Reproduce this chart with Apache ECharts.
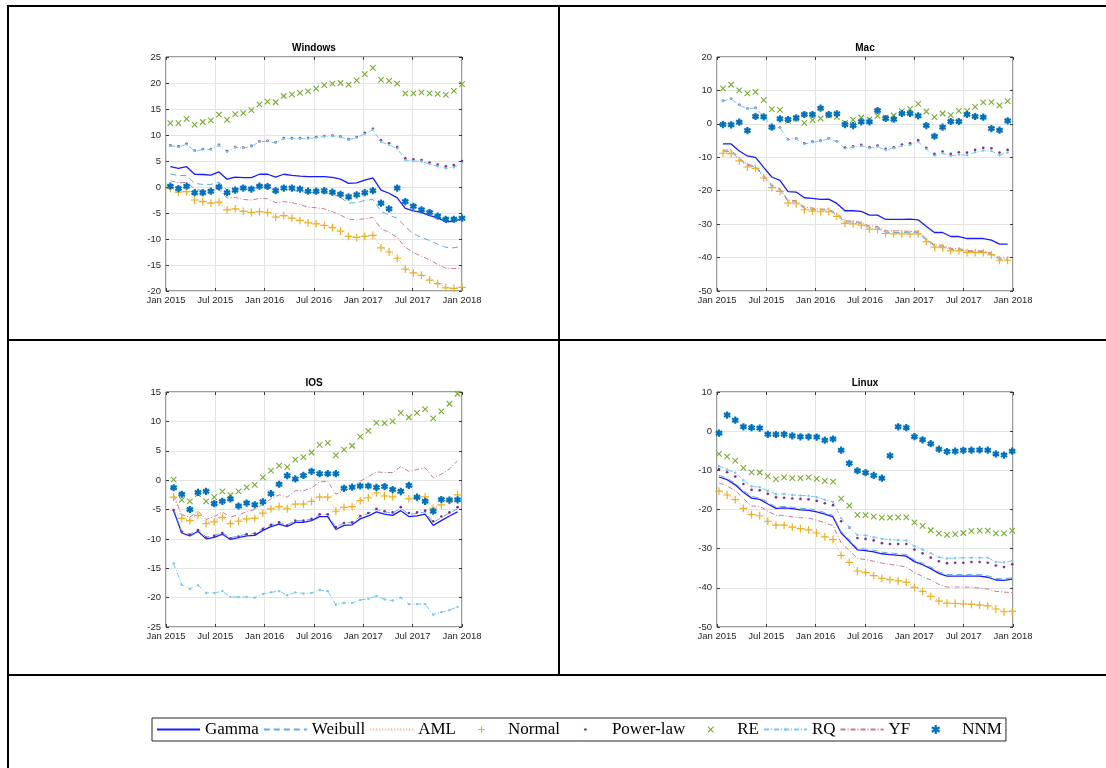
<!DOCTYPE html>
<html>
<head>
<meta charset="utf-8">
<script src="https://cdn.jsdelivr.net/npm/echarts@6/dist/echarts.min.js"></script>
<style>
  html, body { margin: 0; padding: 0; background: #fff; }
  #chart { width: 1106px; height: 768px; }
</style>
</head>
<body>
<div id="chart"></div>
<script>
// x axis is months since Jan 2015
const tickLabels = ['Jan 2015', 'Jul 2015', 'Jan 2016', 'Jul 2016', 'Jan 2017', 'Jul 2017', 'Jan 2018'];
const seriesNames = ['Gamma', 'Weibull', 'AML', 'Normal', 'Power-law', 'RE', 'RQ', 'YF', 'NNM'];

// ---- Windows (37 samples) ----
const winSpan = [0.53, 36];
const winGamma = [3.9,3.6,3.9,2.45,2.4,2.3,2.9,1.5,1.9,1.8,1.8,2.45,2.45,1.9,2.45,2.25,2.1,2.0,2.0,2.0,1.85,1.5,0.7,0.8,1.3,1.75,-0.6,-1.2,-2.1,-4.1,-4.6,-4.9,-5.5,-5.9,-6.7,-6.6,-6.1];
const winWeibull = [2.5,2.2,2.2,0.7,0.5,0.5,0.9,-0.6,-0.4,-0.4,-0.4,0.1,0.1,-0.7,-0.5,-0.6,-0.9,-1.0,-1.2,-1.2,-1.3,-2.0,-3.1,-3.0,-2.6,-2.4,-4.7,-5.4,-6.0,-7.6,-9.0,-9.7,-10.3,-11.0,-11.6,-11.7,-11.4];
const winAML = [-0.3,-0.9,-0.9,-2.4,-2.7,-3.0,-2.9,-4.3,-4.2,-4.6,-4.8,-4.7,-4.8,-5.7,-5.5,-5.9,-6.3,-6.8,-7.0,-7.3,-7.7,-8.4,-9.4,-9.6,-9.4,-9.2,-11.6,-12.4,-13.6,-15.7,-16.4,-16.9,-17.8,-18.5,-19.3,-19.4,-19.2];
const winNormal = [-0.25,-1.0,-0.9,-2.5,-2.8,-3.1,-2.9,-4.4,-4.2,-4.7,-4.9,-4.75,-4.9,-5.8,-5.5,-6.0,-6.4,-6.9,-7.1,-7.4,-7.8,-8.5,-9.5,-9.7,-9.5,-9.3,-11.7,-12.5,-13.7,-15.8,-16.5,-17.0,-17.9,-18.6,-19.4,-19.5,-19.3];
const winPower = [8.0,7.8,8.3,7.0,7.3,7.3,8.1,6.9,7.7,7.6,7.9,8.8,8.9,8.6,9.4,9.4,9.4,9.4,9.6,9.8,9.9,9.7,9.2,9.6,10.4,11.2,9.0,8.4,7.7,5.5,5.3,5.2,4.7,4.3,4.0,4.2,5.0];
const winRE = [12.3,12.3,13.1,12.0,12.5,12.8,13.9,12.9,14.0,14.2,14.8,15.9,16.4,16.3,17.5,17.8,18.1,18.4,18.9,19.6,19.9,20.0,19.7,20.5,21.7,22.9,20.6,20.4,19.9,18.0,18.0,18.2,18.0,17.9,17.7,18.5,19.8];
const winRQ = [7.95,7.7,8.2,6.9,7.2,7.2,8.0,6.8,7.6,7.5,7.8,8.7,8.8,8.5,9.3,9.3,9.3,9.3,9.5,9.7,9.8,9.6,9.1,9.5,10.2,11.0,8.7,8.1,7.4,5.2,5.0,4.9,4.4,4.0,3.6,3.8,4.6];
const winYF = [1.2,0.8,0.9,-0.4,-0.7,-0.65,-0.45,-2.1,-2.0,-2.4,-2.5,-2.2,-2.25,-3.0,-2.8,-3.0,-3.4,-3.85,-4.0,-4.2,-4.75,-5.4,-6.2,-6.3,-6.1,-5.85,-8.0,-8.7,-9.7,-11.6,-12.6,-13.3,-14.0,-14.9,-15.6,-15.7,-15.6];
const winNNM = [0.15,-0.3,0.15,-1.1,-1.1,-0.8,0.0,-1.1,-0.6,-0.2,-0.4,0.15,0.1,-0.7,-0.2,-0.2,-0.4,-0.8,-0.8,-0.7,-1.0,-1.4,-1.9,-1.5,-1.1,-0.7,-3.1,-4.2,-0.2,-2.8,-3.7,-4.4,-4.9,-5.6,-6.2,-6.2,-6.0];

// ---- Mac (36 samples) ----
const macSpan = [0.73, 35.35];
const macGamma = [-6.0,-6.0,-8.1,-9.6,-10.0,-13.0,-15.9,-16.9,-20.3,-20.4,-22.1,-22.3,-22.6,-22.5,-23.8,-26.0,-26.0,-26.2,-27.3,-27.3,-28.6,-28.6,-28.6,-28.5,-28.7,-30.7,-32.5,-32.5,-33.7,-33.7,-34.3,-34.3,-34.3,-34.8,-36.0,-36.0];
const macWeibull = [-8.2,-8.3,-10.6,-12.4,-12.9,-15.7,-18.7,-19.7,-23.2,-23.4,-25.2,-25.6,-25.8,-25.8,-27.2,-29.3,-29.4,-29.8,-31.0,-31.1,-32.4,-32.5,-32.5,-32.6,-32.5,-34.8,-36.5,-36.6,-37.6,-37.6,-38.2,-38.2,-38.2,-39.0,-40.5,-40.5];
const macAML = [-8.6,-8.7,-10.9,-12.7,-13.1,-16.0,-18.9,-20.0,-23.5,-23.7,-25.5,-25.9,-26.1,-26.1,-27.5,-29.6,-29.7,-30.1,-31.3,-31.4,-32.6,-32.7,-32.7,-32.8,-32.7,-35.0,-36.7,-36.8,-37.8,-37.8,-38.3,-38.3,-38.3,-39.0,-40.6,-40.6];
const macNormal = [-8.8,-8.9,-11.1,-12.9,-13.3,-16.2,-19.1,-20.2,-23.7,-23.9,-25.7,-26.1,-26.3,-26.3,-27.7,-29.8,-29.9,-30.3,-31.5,-31.6,-32.8,-32.9,-32.9,-33.0,-32.9,-35.2,-36.9,-37.0,-38.0,-38.0,-38.5,-38.5,-38.5,-39.2,-40.8,-40.8];
const macPower = [6.9,7.5,5.7,4.6,4.8,2.3,-0.8,-1.1,-4.6,-4.4,-5.8,-5.3,-5.0,-4.3,-5.2,-7.1,-6.7,-6.3,-7.0,-6.5,-7.5,-7.0,-6.2,-5.8,-4.9,-7.2,-9.0,-8.3,-9.0,-8.5,-8.6,-7.8,-7.2,-7.3,-8.6,-7.8];
const macRE = [10.6,11.7,10.0,9.1,9.6,7.1,4.4,4.2,0.9,1.6,0.3,1.1,1.6,2.5,2.0,0.3,1.2,1.9,1.3,2.4,1.9,2.5,3.8,4.5,6.0,3.7,2.0,3.1,2.6,3.9,3.9,5.1,6.4,6.5,5.5,6.8];
const macRQ = [6.8,7.5,5.6,4.5,4.7,2.2,-0.9,-1.2,-4.7,-4.5,-6.0,-5.5,-5.2,-4.4,-5.3,-7.4,-7.0,-6.6,-7.3,-6.8,-7.8,-7.3,-6.6,-6.3,-5.4,-7.5,-9.5,-8.8,-9.6,-9.2,-9.4,-8.5,-8.0,-8.1,-9.4,-8.6];
const macYF = [-7.8,-7.9,-10.2,-12.1,-12.6,-15.4,-18.3,-19.4,-22.8,-23.0,-24.9,-25.2,-25.5,-25.5,-26.8,-29.0,-29.1,-29.5,-30.6,-30.7,-32.0,-32.0,-32.0,-32.2,-32.1,-34.4,-36.2,-36.3,-37.3,-37.3,-37.9,-38.0,-38.0,-38.7,-40.1,-40.2];
const macNNM = [-0.2,-0.3,0.5,-2.0,2.2,2.1,-1.0,1.5,1.3,1.8,2.8,2.8,4.7,2.8,3.0,-0.2,-0.5,0.6,0.6,4.0,1.6,1.4,3.1,3.1,2.4,-0.5,-3.7,-1.0,0.7,0.7,2.8,2.2,2.0,-1.4,-1.9,0.9];

// ---- IOS (36 samples) ----
const iosSpan = [0.93, 35.46];
const iosGamma = [-5.2,-9.0,-9.5,-8.7,-10.0,-9.75,-9.2,-10.1,-9.8,-9.5,-9.4,-8.55,-7.9,-7.5,-7.9,-7.2,-7.2,-6.9,-6.2,-6.2,-8.4,-7.7,-7.6,-6.6,-6.1,-5.4,-5.8,-6.0,-5.2,-6.2,-6.1,-5.8,-7.7,-6.9,-6.1,-5.4];
const iosWeibull = [-4.9,-8.7,-9.2,-8.4,-9.7,-9.4,-8.9,-9.8,-9.5,-9.2,-9.1,-8.2,-7.6,-7.2,-7.6,-6.9,-6.9,-6.6,-5.9,-5.9,-8.0,-7.3,-7.2,-6.2,-5.7,-5.0,-5.4,-5.6,-4.8,-5.8,-5.7,-5.4,-7.2,-6.4,-5.6,-4.9];
const iosAML = [-2.8,-6.4,-6.8,-5.9,-7.3,-7.0,-6.3,-7.3,-6.9,-6.5,-6.4,-5.5,-4.8,-4.4,-4.8,-4.0,-4.0,-3.5,-2.8,-2.8,-5.2,-4.6,-4.4,-3.4,-2.9,-2.1,-2.6,-2.8,-2.0,-3.1,-2.9,-2.8,-4.7,-4.1,-3.4,-2.4];
const iosNormal = [-2.9,-6.5,-6.9,-6.0,-7.4,-7.1,-6.35,-7.4,-7.0,-6.6,-6.5,-5.6,-4.9,-4.5,-4.9,-4.1,-4.1,-3.6,-2.9,-2.9,-5.3,-4.65,-4.5,-3.5,-3.0,-2.15,-2.7,-2.85,-2.1,-3.2,-3.0,-2.85,-4.75,-4.2,-3.5,-2.5];
const iosPower = [-5.1,-8.8,-9.3,-8.5,-9.8,-9.5,-9.0,-9.9,-9.6,-9.2,-9.1,-8.3,-7.6,-7.2,-7.7,-6.9,-6.9,-6.6,-5.8,-5.8,-8.0,-7.3,-7.2,-6.1,-5.6,-4.9,-5.3,-5.5,-4.6,-5.6,-5.5,-5.2,-7.0,-6.2,-5.5,-4.6];
const iosRE = [0.1,-3.35,-3.6,-2.4,-3.6,-2.9,-1.9,-2.55,-1.9,-1.25,-0.8,0.45,1.6,2.45,2.2,3.5,3.9,4.7,6.0,6.35,4.2,5.2,5.85,7.4,8.4,9.75,9.7,10.0,11.45,10.7,11.45,12.1,10.5,11.7,13.0,14.7];
const iosRQ = [-14.2,-17.8,-18.5,-17.9,-19.2,-19.2,-18.9,-19.9,-19.9,-19.9,-20.0,-19.4,-19.1,-18.9,-19.6,-19.1,-19.3,-19.2,-18.7,-18.9,-21.2,-20.9,-20.9,-20.4,-20.2,-19.7,-20.3,-20.5,-20.0,-21.1,-21.1,-21.1,-22.9,-22.5,-22.1,-21.6];
const iosYF = [-2.5,-5.9,-6.3,-5.3,-6.7,-6.2,-5.4,-6.3,-5.9,-5.4,-5.0,-4.1,-3.2,-2.5,-2.9,-1.8,-1.8,-1.3,-0.3,-0.2,-2.4,-1.8,-1.3,-0.2,0.6,1.4,1.3,1.3,2.3,1.5,1.8,2.1,0.4,1.0,1.9,3.3];
const iosNNM = [-1.3,-2.4,-5.0,-2.1,-1.9,-4.0,-3.6,-3.2,-4.4,-3.9,-4.2,-3.7,-2.3,-0.7,0.75,0.2,0.8,1.5,1.1,1.1,1.1,-1.4,-1.2,-1.0,-1.0,-1.25,-1.1,-1.6,-1.9,-0.9,-2.9,-3.6,-5.3,-3.3,-3.4,-3.35];

// ---- Linux (37 samples) ----
const linSpan = [0.24, 35.9];
const linGamma = [-11.7,-12.4,-13.7,-15.6,-17.1,-17.4,-18.6,-19.7,-19.6,-19.8,-20.1,-20.2,-20.6,-21.2,-21.9,-26.0,-28.1,-30.3,-30.5,-30.8,-31.3,-31.5,-31.7,-31.9,-33.3,-34.1,-35.1,-36.3,-37.0,-37.0,-37.0,-37.0,-37.0,-37.3,-38.0,-38.1,-37.8];
const linWeibull = [-11.3,-12.0,-13.3,-15.2,-16.7,-17.0,-18.2,-19.3,-19.2,-19.4,-19.7,-19.8,-20.2,-20.8,-21.5,-25.6,-27.7,-29.9,-30.1,-30.4,-30.9,-31.1,-31.3,-31.5,-32.9,-33.7,-34.7,-35.9,-36.6,-36.6,-36.6,-36.6,-36.6,-36.9,-37.6,-37.7,-37.4];
const linAML = [-15.2,-16.2,-17.4,-19.6,-21.2,-21.5,-22.9,-23.9,-23.9,-24.4,-24.8,-25.1,-25.9,-26.9,-27.6,-31.6,-33.4,-35.6,-36.0,-36.8,-37.5,-37.8,-38.1,-38.5,-39.8,-40.8,-42.1,-43.3,-43.8,-43.9,-44.0,-44.1,-44.3,-44.5,-45.3,-46.0,-45.9];
const linNormal = [-15.3,-16.3,-17.5,-19.7,-21.3,-21.6,-23.0,-24.0,-24.0,-24.5,-24.9,-25.2,-26.0,-27.0,-27.7,-31.7,-33.5,-35.7,-36.1,-36.9,-37.6,-37.9,-38.2,-38.6,-39.9,-40.9,-42.2,-43.4,-43.9,-44.0,-44.1,-44.2,-44.4,-44.6,-45.4,-46.1,-46.0];
const linPower = [-9.7,-10.5,-11.6,-13.5,-15.0,-15.1,-16.0,-16.9,-17.0,-17.2,-17.3,-17.4,-17.8,-18.4,-18.9,-23.0,-24.6,-27.3,-27.5,-27.9,-28.6,-28.8,-28.8,-28.8,-30.2,-31.2,-32.3,-33.2,-33.7,-33.6,-33.6,-33.4,-33.4,-33.6,-34.3,-34.7,-34.0];
const linRE = [-5.8,-6.5,-7.5,-9.4,-10.5,-10.55,-11.5,-12.25,-11.8,-12.0,-12.0,-11.8,-12.2,-12.7,-12.9,-17.2,-19.0,-21.4,-21.45,-21.8,-22.1,-22.1,-22.0,-22.0,-23.3,-24.2,-25.3,-26.1,-26.5,-26.3,-26.0,-25.5,-25.4,-25.4,-26.1,-26.1,-25.4];
const linRQ = [-8.9,-9.8,-10.6,-12.5,-14.1,-14.3,-15.2,-16.1,-16.0,-16.3,-16.4,-16.5,-16.85,-17.5,-18.1,-22.2,-24.5,-26.5,-26.6,-27.1,-27.5,-27.7,-27.8,-27.9,-29.4,-30.2,-31.2,-32.2,-32.5,-32.4,-32.3,-32.3,-32.3,-32.3,-33.4,-33.5,-33.1];
const linYF = [-13.2,-14.0,-15.2,-17.2,-19.1,-19.2,-20.4,-21.5,-21.5,-21.9,-22.1,-22.2,-22.7,-23.4,-24.1,-28.5,-30.5,-32.5,-32.8,-33.2,-33.7,-34.0,-34.3,-34.7,-36.1,-37.1,-38.0,-39.1,-39.8,-39.8,-39.8,-39.8,-40.1,-40.3,-40.9,-41.1,-41.2];
const linNNM = [-0.5,4.1,2.8,1.1,0.9,0.8,-0.8,-0.85,-0.8,-1.2,-1.45,-1.45,-1.5,-2.3,-2.0,-4.85,-8.2,-10.1,-10.6,-11.3,-12.0,-6.3,1.1,0.9,-1.4,-2.2,-3.2,-4.6,-5.2,-5.1,-4.9,-4.85,-4.8,-4.85,-5.8,-6.1,-5.1];

const panels = [
  { title: 'Windows', span: winSpan, y: [-20, 25, 5], grid: { left: 166, top: 57, width: 296, height: 234 },
    values: [winGamma, winWeibull, winAML, winNormal, winPower, winRE, winRQ, winYF, winNNM] },
  { title: 'Mac', span: macSpan, y: [-50, 20, 10], grid: { left: 717, top: 57, width: 296, height: 234 },
    values: [macGamma, macWeibull, macAML, macNormal, macPower, macRE, macRQ, macYF, macNNM] },
  { title: 'IOS', span: iosSpan, y: [-25, 15, 5], grid: { left: 166, top: 392, width: 296, height: 235 },
    values: [iosGamma, iosWeibull, iosAML, iosNormal, iosPower, iosRE, iosRQ, iosYF, iosNNM] },
  { title: 'Linux', span: linSpan, y: [-50, 10, 10], grid: { left: 717, top: 392, width: 296, height: 235 },
    values: [linGamma, linWeibull, linAML, linNormal, linPower, linRE, linRQ, linYF, linNNM] }
];

// stroked marker shapes inside a 10x10 box (the outer moves only pad the box,
// so the same symbol also fits the legend, which sizes it to 80% of itemHeight)
const blankPath = 'path://M0,0M10,10';
const plusPath = 'path://M0,0M10,10M5,2L5,8M2,5L8,5';
const crossPath = 'path://M0,0M10,10M2.5,2.5L7.5,7.5M2.5,7.5L7.5,2.5';
const starPath = 'path://M0,0M10,10M5,1L5,9M1.5,3L8.5,7M1.5,7L8.5,3';
const dotPath = 'path://M0,0M10,10M5,3.8A1.2,1.2,0,1,1,5,6.2A1.2,1.2,0,1,1,5,3.8Z';

const styles = {
  'Gamma':     { color: '#1a1aff', line: { width: 1.3, type: 'solid' } },
  'Weibull':   { color: '#62a9e6', line: { width: 1, type: [6, 4] } },
  'AML':       { color: '#eea08a', line: { width: 1, type: [1, 2] } },
  'Normal':    { color: '#EDB120', symbol: plusPath, size: 13, bw: 1.2 },
  'Power-law': { color: '#7E2F8E', symbol: dotPath, size: 11, bw: 0 },
  'RE':        { color: '#77AC30', symbol: crossPath, size: 11, bw: 1.1 },
  'RQ':        { color: '#78c8ee', line: { width: 1, type: [5, 2, 1, 2] }, symbol: dotPath, size: 10, bw: 0 },
  'YF':        { color: '#c87a90', line: { width: 1, type: [5, 2, 1, 2] } },
  'NNM':       { color: '#0072BD', symbol: starPath, size: 9, bw: 2.2 }
};

const font = 'Liberation Sans, Arial, sans-serif';
const boxColor = '#3a3a3a';

const grids = [], xAxes = [], yAxes = [], titles = [], series = [];
panels.forEach((p, g) => {
  grids.push(Object.assign({ show: true, borderColor: boxColor, borderWidth: 1, backgroundColor: 'transparent' }, p.grid));
  const tick = { show: true, inside: true, length: 3, lineStyle: { color: boxColor } };
  xAxes.push({
    gridIndex: g, type: 'value', position: 'bottom', min: 0, max: 36, interval: 6,
    axisLine: { show: false, onZero: false },
    axisTick: tick,
    splitLine: { show: true, lineStyle: { color: '#e4e4e4', width: 1 } },
    axisLabel: { showMinLabel: true, showMaxLabel: true, margin: 4, fontSize: 9.5, color: '#262626', fontFamily: font,
      formatter: v => tickLabels[Math.round(v / 6)] }
  });
  xAxes.push({
    gridIndex: g, type: 'value', position: 'top', min: 0, max: 36, interval: 6,
    axisLine: { show: false, onZero: false }, axisTick: tick,
    splitLine: { show: false }, axisLabel: { show: false }
  });
  yAxes.push({
    gridIndex: g, type: 'value', position: 'left', min: p.y[0], max: p.y[1], interval: p.y[2],
    axisLine: { show: false, onZero: false },
    axisTick: tick,
    splitLine: { show: true, lineStyle: { color: '#e4e4e4', width: 1 } },
    axisLabel: { showMinLabel: true, showMaxLabel: true, margin: 5, fontSize: 9.5, color: '#262626', fontFamily: font }
  });
  yAxes.push({
    gridIndex: g, type: 'value', position: 'right', min: p.y[0], max: p.y[1], interval: p.y[2],
    axisLine: { show: false, onZero: false }, axisTick: tick,
    splitLine: { show: false }, axisLabel: { show: false }
  });
  titles.push({
    text: p.title, left: p.grid.left + p.grid.width / 2, top: p.grid.top - 14, textAlign: 'center', padding: 0,
    textStyle: { fontSize: 10, fontWeight: 'bold', color: '#000', fontFamily: font }
  });
  seriesNames.forEach((name, k) => {
    const vals = p.values[k];
    const step = (p.span[1] - p.span[0]) / (vals.length - 1);
    const st = styles[name];
    series.push({
      name: name, type: 'line', xAxisIndex: 2 * g, yAxisIndex: 2 * g, silent: true, animation: false,
      data: vals.map((v, i) => [p.span[0] + i * step, v]),
      symbol: st.symbol || blankPath, symbolSize: st.size || 1, showSymbol: !!st.symbol,
      lineStyle: st.line ? { color: st.color, width: st.line.width, type: st.line.type } : { opacity: 0, width: 0 },
      itemStyle: { color: st.color, borderColor: st.color, borderWidth: st.bw || 0 },
      emphasis: { disabled: true }
    });
  });
});

const frame = [
  [7, 6, 1106, 6], [8, 5, 8, 768], [559, 5, 559, 675], [7, 340, 1106, 340], [7, 675, 1106, 675]
].map(s => ({ type: 'line', shape: { x1: s[0], y1: s[1], x2: s[2], y2: s[3] }, style: { stroke: '#000', lineWidth: 2 }, silent: true }));

const chart = echarts.init(document.getElementById('chart'), null, { renderer: 'canvas' });
chart.setOption({
  animation: false,
  title: titles,
  grid: grids,
  xAxis: xAxes,
  yAxis: yAxes,
  series: series,
  graphic: frame,
  legend: {
    left: 152, top: 718, orient: 'horizontal',
    padding: [3, 4, 3, 4], itemGap: 4, itemWidth: 43, itemHeight: 14,
    borderColor: '#262626', borderWidth: 1,
    selectedMode: false,
    textStyle: { fontFamily: 'Liberation Serif, Times New Roman, serif', fontSize: 17, color: '#000' },
    data: seriesNames.map(n => ({ name: n, itemStyle: { borderWidth: styles[n].bw || 0 } }))
  }
});
</script>
</body>
</html>
